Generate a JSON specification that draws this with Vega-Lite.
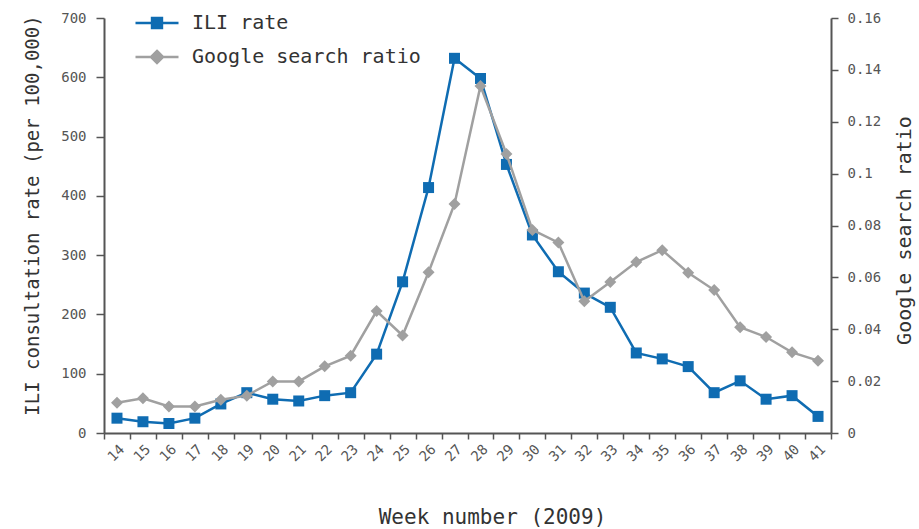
{
  "$schema": "https://vega.github.io/schema/vega-lite/v6.json",
  "width": 727,
  "height": 415,
  "autosize": {"type": "none"},
  "padding": {"left": 104, "top": 18, "right": 88, "bottom": 96},
  "background": "white",
  "config": {
    "font": "DejaVu Sans Mono",
    "view": {"stroke": null},
    "axis": {
      "grid": false,
      "domainColor": "#555555",
      "domainWidth": 2,
      "tickColor": "#555555",
      "tickWidth": 1.5,
      "tickSize": 7,
      "labelColor": "#555555",
      "labelFontSize": 14,
      "labelFont": "DejaVu Sans Mono",
      "titleFont": "DejaVu Sans Mono",
      "titleColor": "#333333",
      "titleFontWeight": "normal",
      "titleFontSize": 20
    },
    "legend": {"labelFont": "DejaVu Sans Mono"}
  },
  "data": {
    "values": [
      {"week": 14, "ili": 25, "google": 0.0117},
      {"week": 15, "ili": 19, "google": 0.0134},
      {"week": 16, "ili": 16, "google": 0.0102},
      {"week": 17, "ili": 25, "google": 0.0102},
      {"week": 18, "ili": 49, "google": 0.0128},
      {"week": 19, "ili": 68, "google": 0.0144},
      {"week": 20, "ili": 57, "google": 0.0199},
      {"week": 21, "ili": 54, "google": 0.0199},
      {"week": 22, "ili": 63, "google": 0.0257},
      {"week": 23, "ili": 68, "google": 0.0298},
      {"week": 24, "ili": 133, "google": 0.047},
      {"week": 25, "ili": 255, "google": 0.0376},
      {"week": 26, "ili": 414, "google": 0.062},
      {"week": 27, "ili": 632, "google": 0.0883},
      {"week": 28, "ili": 598, "google": 0.1338},
      {"week": 29, "ili": 453, "google": 0.1076},
      {"week": 30, "ili": 334, "google": 0.0783},
      {"week": 31, "ili": 272, "google": 0.0734},
      {"week": 32, "ili": 236, "google": 0.0508},
      {"week": 33, "ili": 212, "google": 0.0582},
      {"week": 34, "ili": 135, "google": 0.0659},
      {"week": 35, "ili": 125, "google": 0.0705},
      {"week": 36, "ili": 112, "google": 0.0618},
      {"week": 37, "ili": 68, "google": 0.0551},
      {"week": 38, "ili": 88, "google": 0.0408},
      {"week": 39, "ili": 57, "google": 0.037},
      {"week": 40, "ili": 63, "google": 0.0311},
      {"week": 41, "ili": 28, "google": 0.0279}
    ]
  },
  "encoding": {
    "x": {
      "field": "week",
      "type": "ordinal",
      "bandPosition": 0.5,
      "scale": {"type": "band", "paddingInner": 0, "paddingOuter": 0},
      "axis": {
        "title": "Week number (2009)",
        "labelAngle": -45,
        "tickBand": "extent",
        "tickSize": 6,
        "labelPadding": 3,
        "titlePadding": 43,
        "titleFontSize": 21,
        "titleX": 388
      }
    }
  },
  "layer": [
    {
      "encoding": {
        "y": {
          "field": "ili",
          "type": "quantitative",
          "scale": {"domain": [0, 700]},
          "axis": {
            "orient": "left",
            "values": [0, 100, 200, 300, 400, 500, 600, 700],
            "title": "ILI consultation rate (per 100,000)",
            "titleFontSize": 19,
            "titleY": 197,
            "tickSize": 8,
            "labelPadding": 10,
            "titlePadding": 18
          }
        },
        "color": {
          "datum": "ILI rate",
          "type": "nominal",
          "scale": {"domain": ["ILI rate", "Google search ratio"], "range": ["#0f6cb2", "#a0a0a0"]},
          "legend": {
            "title": null,
            "orient": "none",
            "legendX": 30,
            "legendY": -18,
            "labelFontSize": 20,
            "labelColor": "#333333",
            "labelOffset": 12,
            "labelLimit": 0,
            "rowPadding": 1,
            "symbolSize": 1849,
            "encode": {
              "symbols": {
                "update": {
                  "shape": {"signal": "datum.value === 'ILI rate' ? 'M-1,0H1M-0.23,-0.23H0.23V0.23H-0.23Z' : 'M-1,0H1M0,-0.28L0.28,0L0,0.28L-0.28,0Z'"},
                  "fill": {"scale": "color", "field": "value"},
                  "stroke": {"scale": "color", "field": "value"},
                  "strokeWidth": {"value": 2.5},
                  "size": {"value": 1849},
                  "opacity": {"value": 1}
                }
              }
            }
          }
        }
      },
      "layer": [
        {"mark": {"type": "line", "strokeWidth": 2.5}},
        {"mark": {"type": "point", "shape": "square", "filled": true, "size": 121, "opacity": 1}}
      ]
    },
    {
      "encoding": {
        "y": {
          "field": "google",
          "type": "quantitative",
          "scale": {"domain": [0, 0.16]},
          "axis": {
            "orient": "right",
            "values": [0, 0.02, 0.04, 0.06, 0.08, 0.1, 0.12, 0.14, 0.16],
            "format": "~g",
            "title": "Google search ratio",
            "titleAngle": 270,
            "titleBaseline": "top",
            "titleY": 212,
            "tickSize": 7,
            "labelPadding": 9,
            "titlePadding": 14
          }
        },
        "color": {"datum": "Google search ratio", "type": "nominal"}
      },
      "layer": [
        {"mark": {"type": "line", "strokeWidth": 2.5}},
        {"mark": {"type": "point", "shape": "diamond", "filled": true, "size": 144, "opacity": 1}}
      ]
    }
  ],
  "resolve": {"scale": {"y": "independent"}}
}
